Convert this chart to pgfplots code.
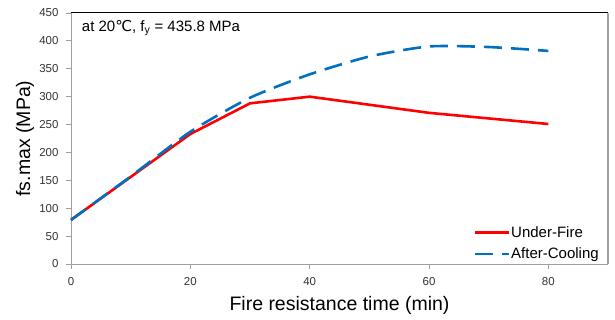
\documentclass[border=0pt]{standalone}
\usepackage{fontspec}
\setmainfont{Liberation Sans}
\newfontfamily\dejavu{DejaVu Sans}
\usepackage{pgfplots}
\pgfplotsset{compat=1.18}
\definecolor{ublue}{RGB}{0,112,192}
\definecolor{axgray}{RGB}{160,160,160}
\begin{document}
\begin{tikzpicture}
\useasboundingbox (-71pt,-56pt) rectangle (544pt,264pt);
\begin{axis}[
  at={(0,0)}, anchor=south west,
  scale only axis, width=537pt, height=251pt,
  xmin=0, xmax=90, ymin=0, ymax=450,
  xtick={0,20,40,60,80}, ytick={0,50,...,450},
  axis x line*=bottom, axis y line*=left,
  axis line style={draw=axgray, line width=0.9pt, -},
  tick align=outside, major tick length=5pt,
  tick style={draw=axgray, line width=0.9pt},
  /pgf/number format/assume math mode=true,
  ticklabel style={font=\fontsize{11.5}{13}\selectfont, text=black!80},
  yticklabel style={xshift=-4pt},
  xticklabel style={yshift=-5pt},
  xlabel={Fire resistance time (min)},
  ylabel={fs.max (MPa)},
  label style={font=\fontsize{19.5}{22}\selectfont},
  x label style={at={(axis description cs:0.5,-0.167)}, anchor=center},
  y label style={at={(axis description cs:-0.0857,0.5)}, anchor=center},
  legend style={at={(axis description cs:0.985,0.01)}, anchor=south east,
    draw=none, fill=none, font=\fontsize{15}{17}\selectfont,
    row sep=7pt, inner sep=0pt, nodes={inner sep=1pt}},
  legend cell align=left,
  legend image code/.code={\draw[#1] (0pt,0pt) -- (34pt,0pt);},
  clip=false,
]
\addplot[red, line width=2.6pt] coordinates {
  (0,79) (20,233) (30,288) (40,300) (60,271) (80,251)};
\addlegendentry{Under-Fire}
\addplot[ublue, line width=2.6pt, dash pattern=on 18pt off 9pt, smooth, tension=0.4] coordinates {
  (0,79) (10,157) (20,237) (30,298) (40,340) (50,372) (60,390) (70,389) (80,382)};
\addlegendentry{After-Cooling}
\draw[black, line width=1pt] (rel axis cs:0,1) -- (rel axis cs:1,1);
\draw[axgray, line width=1.6pt] (rel axis cs:1,1) -- (rel axis cs:1,0);
\node[anchor=west, font=\fontsize{15}{17}\selectfont, inner sep=0pt] at (axis description cs:0.02,0.94)
  {at 20{\dejavu ℃}, f\textsubscript{y} = 435.8 MPa};
\end{axis}
\end{tikzpicture}
\end{document}
